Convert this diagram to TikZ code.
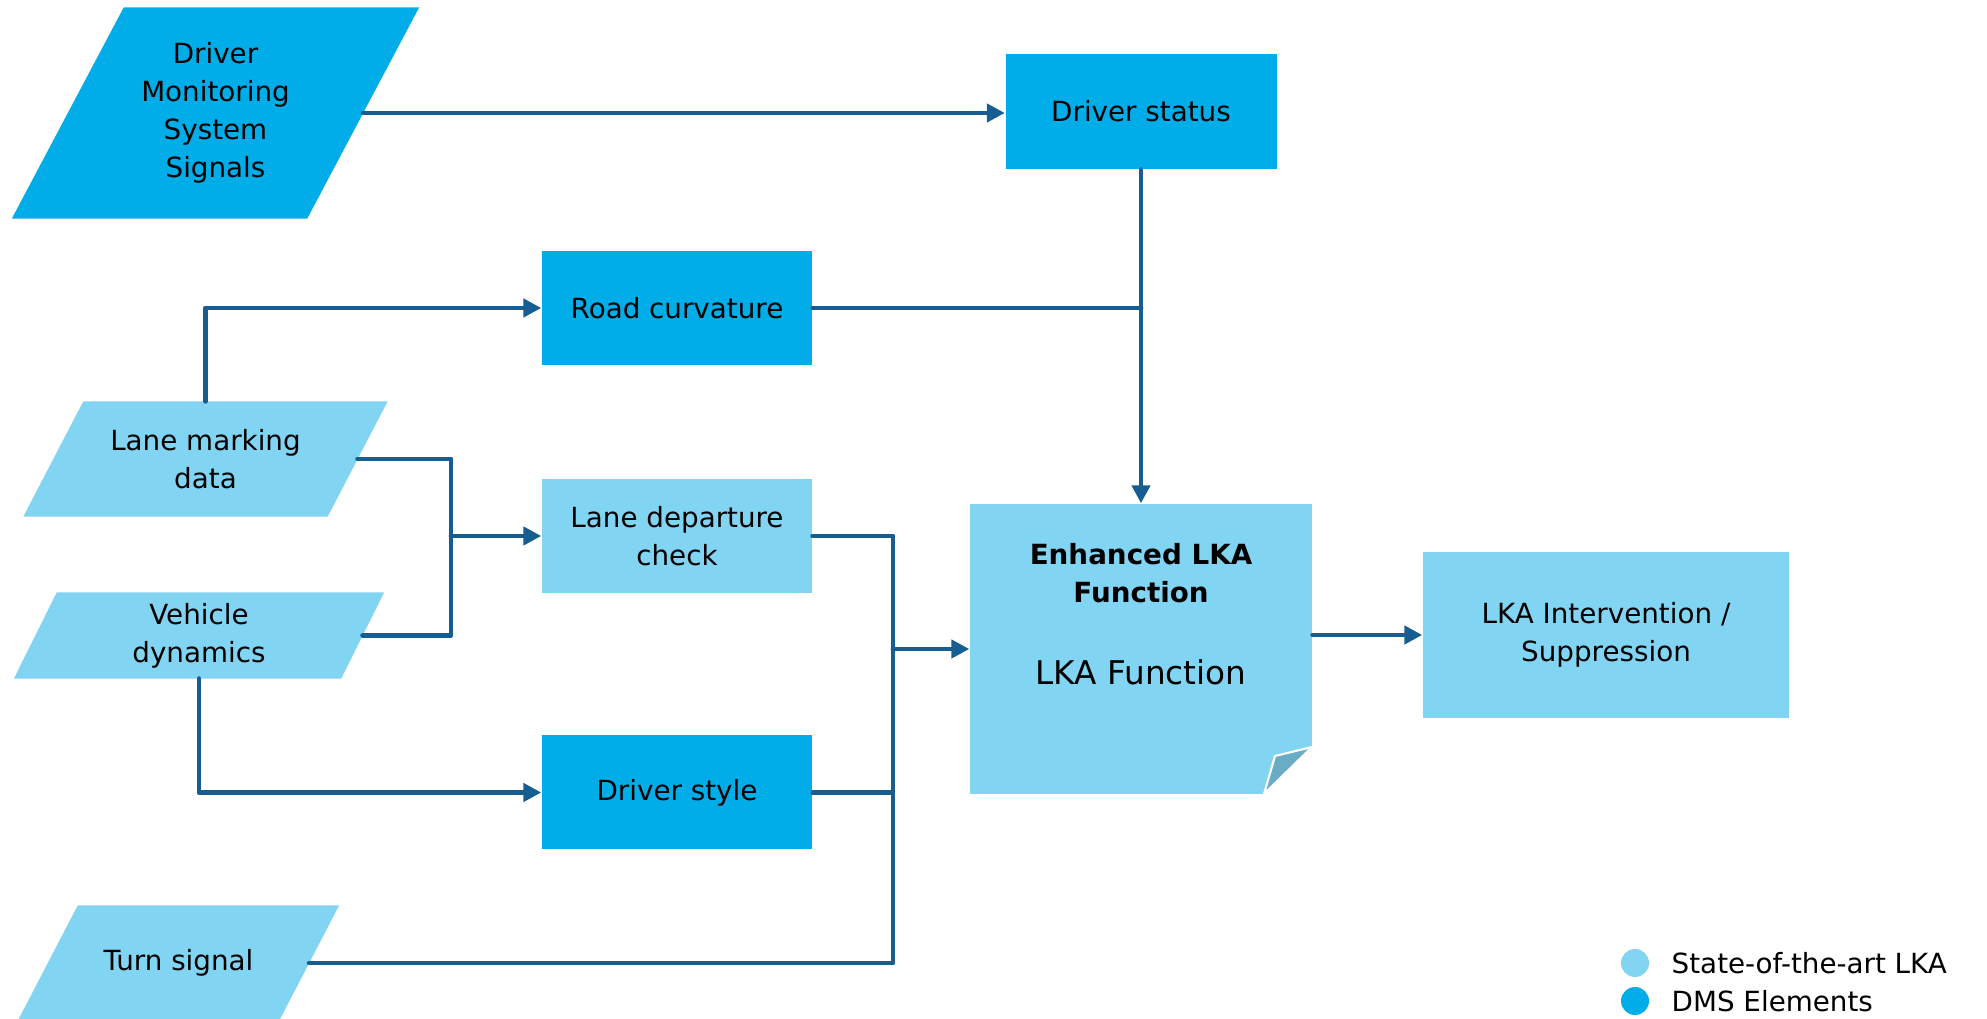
\documentclass[tikz,border=0pt]{standalone}
\usepackage{fontspec}
\setmainfont{DejaVu Sans}
\usetikzlibrary{arrows.meta, backgrounds}
\definecolor{dmsblue}{RGB}{0,173,232}
\definecolor{lkablue}{RGB}{130,212,243}
\definecolor{linkblue}{RGB}{22,94,145}
\definecolor{foldblue}{RGB}{106,172,198}

% slanted input shape behind node #1, half slant #2
\newcommand{\slantfill}[3]{\fill[#3] ([xshift=#2]#1.north west) -- ([xshift=#2]#1.north east) -- ([xshift=-#2]#1.south east) -- ([xshift=-#2]#1.south west) -- cycle;}

\begin{document}
\begin{tikzpicture}[x=0.1mm, y=-0.1mm,
  every node/.style={font=\fontsize{7.9}{10.8}\selectfont, inner sep=0pt, align=center},
  box/.style={rectangle, minimum width=27mm, minimum height=11.4mm},
  link/.style={draw=linkblue, line width=1.4pt, line cap=round, line join=round},
  arrow/.style={link, -{Triangle[length=1.8mm, width=1.8mm]}},
  legdot/.style={circle, minimum size=2.8mm}]
	
	\useasboundingbox (0,0) rectangle (1987,1019);
	
	% Input signals
	\node[box, minimum width=29.4mm, minimum height=21mm] (dms) at (215.5,113) {Driver\\Monitoring\\System\\Signals};
	\node[box, minimum width=30.3mm] (lmd) at (205.5,459) {Lane marking\\data};
	\node[box, minimum width=32.6mm, minimum height=8.5mm] (vdyn) at (199,635.5) {Vehicle\\dynamics};
	\node[box, minimum width=26mm] (turn) at (178.5,963) {Turn signal};
	\begin{scope}[on background layer]
		\slantfill{dms}{5.6mm}{dmsblue}
		\slantfill{lmd}{3mm}{lkablue}
		\slantfill{vdyn}{2.15mm}{lkablue}
		\slantfill{turn}{3mm}{lkablue}
	\end{scope}
	
	% Processing blocks
	\node[box, fill=dmsblue, minimum width=27.1mm, minimum height=11.5mm] (ds) at (1141,111.5) {Driver status};
	\node[box, fill=dmsblue] (rc) at (677,308) {Road curvature};
	\node[box, fill=lkablue] (ldc) at (677,536) {Lane departure\\check};
	\node[box, fill=dmsblue] (dstyle) at (677,792.5) {Driver style};
	
	% Enhanced LKA function (folded note)
	\node[box, fill=lkablue, minimum width=34.2mm, minimum height=29mm] (elka) at (1141,649) {};
	\fill[white] (1313,747) -- (1313,795) -- (1264,795) -- cycle;
	\filldraw[fill=foldblue, draw=white, line width=0.6pt] (1312,747) -- (1275,756) -- (1264,794) -- cycle;
	\node[font=\fontsize{7.9}{10.8}\selectfont\bfseries] (elkahead) at (1141,573) {Enhanced LKA\\Function};
	\node[font=\fontsize{9.3}{11}\selectfont] (elkafn) at (1141,672) {LKA Function};
	
	% Output
	\node[box, fill=lkablue, minimum width=36.6mm, minimum height=16.6mm] (lkai) at (1606,635) {LKA Intervention /\\Suppression};
	
	% Legend
	\node[legdot, fill=lkablue] (legsota) at (1635,963) {};
	\node[anchor=west] (legsotatxt) at (1671,963) {State-of-the-art LKA};
	\node[legdot, fill=dmsblue] (legdms) at (1635,1001) {};
	\node[anchor=west] (legdmstxt) at (1671,1001) {DMS Elements};
	
	% Connectors
	\coordinate (ldjoin) at (451,536);
	\coordinate (fjoin) at (893,649);
	\draw[arrow] (dms.east) -- (dms.east -| ds.west);
	\draw[arrow] (lmd.north) |- (rc.west);
	\draw[link] (lmd.east) -| (ldjoin);
	\draw[link] (vdyn.east) -| (ldjoin);
	\draw[arrow] (ldjoin) -- (ldc.west);
	\draw[arrow] (vdyn.south) |- (dstyle.west);
	\draw[link] (rc.east) -- (rc.east -| ds.south);
	\draw[arrow] (ds.south) -- (elka.north);
	\draw[link] (ldc.east) -| (fjoin);
	\draw[link] (dstyle.east) -| (fjoin);
	\draw[link] (turn.east) -| (fjoin);
	\draw[arrow] (fjoin) -- (elka.west);
	\draw[arrow] (lkai.west -| elka.east) -- (lkai.west);
	
\end{tikzpicture}
\end{document}
